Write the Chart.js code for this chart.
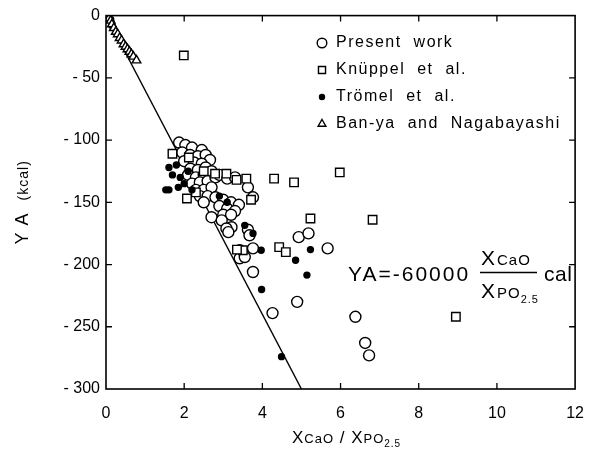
<!DOCTYPE html>
<html><head><meta charset="utf-8">
<script src="https://cdn.jsdelivr.net/npm/chart.js@4/dist/chart.umd.min.js"></script>
<style>html,body{margin:0;padding:0;background:#fff;}</style>
</head><body>
<canvas id="c" width="599" height="452" style="width:599px;height:452px;display:block"></canvas>
<script>
// ---- data ----
const seriesNames = ['Present work', 'Knüppel et al.', 'Trömel et al.', 'Ban-ya and Nagabayashi'];
const xTicks = [0, 2, 4, 6, 8, 10, 12];
const yTicks = [0, -50, -100, -150, -200, -250, -300];

const presentWork = [
  [1.87,-102],[2.03,-104],[2.2,-106],[2.45,-108],[1.95,-110],[2.15,-112],[2.35,-113],[2.55,-112],
  [2.66,-116],[2.0,-117],[2.25,-118],[2.45,-119],[2.16,-123],[2.35,-124],[2.55,-122],[2.1,-128],
  [2.3,-130],[2.5,-128],[2.7,-125],[2.2,-135],[2.4,-134],[2.6,-133],[2.8,-130],[2.3,-140],
  [2.5,-140],[2.7,-138],[2.4,-145],[2.6,-145],[2.5,-150],[2.9,-128],[3.1,-131],[3.3,-130],
  [3.63,-138],[3.76,-146],[2.8,-146],[3.0,-148],[3.2,-150],[3.4,-152],[2.9,-153],[3.1,-155],
  [3.3,-157],[3.0,-160],[3.2,-160],[2.7,-162],[2.96,-164.5],[3.21,-170],[3.08,-171],[3.13,-174],
  [3.63,-172],[3.67,-176.5],[3.42,-188.5],[3.42,-195],[3.55,-194],[3.76,-187],[3.76,-206],
  [4.93,-178],[5.18,-175],[5.67,-187],[4.26,-239],[4.89,-230],[6.38,-242],[6.63,-263],[6.73,-273]
];
const knuppel = [
  [1.99,-32],[1.70,-111],[2.12,-114],[2.07,-147],[2.5,-125],[2.79,-127],[3.08,-127],[3.34,-132],
  [3.59,-131],[3.71,-148],[4.30,-131],[4.81,-134],[5.98,-126],[5.23,-163],[6.82,-164],[4.43,-186],
  [4.60,-190],[3.50,-188.5],[8.95,-242],[2.3,-142],[3.35,-188]
];
const tromel = [
  [0.12,-3],[0.15,-8],[1.61,-122],[1.53,-140],[1.61,-140],[1.7,-128],[1.8,-120],[1.9,-130],
  [2.0,-135],[2.1,-125],[1.85,-138],[2.2,-140],[2.9,-145],[3.1,-150],[3.55,-168.5],[3.76,-175],
  [3.97,-188.5],[5.23,-188],[4.85,-196.5],[5.14,-208.5],[3.98,-220],[4.49,-274]
];
const banya = [
  [0.03,-1],[0.08,-2],[0.12,-4],[0.15,-7],[0.2,-10],[0.25,-13],[0.3,-15],[0.35,-18],[0.4,-20],
  [0.45,-23],[0.5,-25],[0.55,-27],[0.6,-29],[0.65,-31],[0.7,-33],[0.78,-36]
];
const fitLine = [[0,0],[5,-300]];

const toXY = a => a.map(p => ({x:p[0], y:p[1]}));
const FONT = "'Liberation Sans', Arial, sans-serif";

const ptBase = {showLine:false, borderColor:'#000', borderWidth:1.4};
const datasets = [
  {label:'fit', type:'line', data:toXY(fitLine), borderColor:'#000', borderWidth:1.4, pointRadius:0, order:10},
  Object.assign({label:seriesNames[1], data:toXY(knuppel), pointStyle:'rect', pointRadius:6, backgroundColor:'#fff', order:4}, ptBase),
  Object.assign({label:seriesNames[0], data:toXY(presentWork), pointStyle:'circle', pointRadius:5.5, backgroundColor:'#fff', order:5}, ptBase),
  Object.assign({label:seriesNames[2], data:toXY(tromel), pointStyle:'circle', pointRadius:3, backgroundColor:'#000', order:3}, ptBase),
  Object.assign({label:seriesNames[3], data:toXY(banya), pointStyle:'triangle', pointRadius:5, backgroundColor:'#fff', order:2}, ptBase)
];

const decor = {
  id:'decor',
  afterDraw(chart){
    const ctx = chart.ctx, a = chart.chartArea, xs = chart.scales.x, ys = chart.scales.y;
    ctx.save();
    ctx.strokeStyle = '#000'; ctx.lineWidth = 1.6;
    ctx.strokeRect(a.left, a.top, a.right - a.left, a.bottom - a.top);
    ctx.lineWidth = 1.3;
    ctx.beginPath();
    xTicks.slice(1, -1).forEach(v => {
      const px = xs.getPixelForValue(v);
      ctx.moveTo(px, a.bottom); ctx.lineTo(px, a.bottom - 6);
      ctx.moveTo(px, a.top); ctx.lineTo(px, a.top + 6);
    });
    yTicks.slice(1, -1).forEach(v => {
      const py = ys.getPixelForValue(v);
      ctx.moveTo(a.left, py); ctx.lineTo(a.left + 6, py);
      ctx.moveTo(a.right, py); ctx.lineTo(a.right - 6, py);
    });
    ctx.stroke();

    // legend
    ctx.fillStyle = '#000';
    ctx.font = '16px ' + FONT; ctx.textBaseline = 'middle'; ctx.textAlign = 'left';
    ctx.letterSpacing = '1.5px';
    ctx.wordSpacing = '6px';
    const legY = [43, 70, 97, 124];
    const order = [2, 1, 3, 4];
    const legR = {1:5, 2:4.8, 3:2.5, 4:4.5};
    order.forEach((di, i) => {
      const ds = chart.data.datasets[di];
      ctx.fillStyle = ds.backgroundColor; ctx.lineWidth = 1.4;
      Chart.helpers.drawPoint(ctx, {pointStyle: ds.pointStyle, radius: legR[di], borderWidth: 1.4}, 322, legY[i]);
      ctx.fillStyle = '#000';
      ctx.fillText(ds.label, 336, legY[i]);
    });
    ctx.wordSpacing = '0px';

    // formula
    ctx.textBaseline = 'alphabetic';
    ctx.letterSpacing = '2px';
    ctx.font = '21px ' + FONT;
    ctx.fillText('YA=-60000', 348, 281);
    ctx.letterSpacing = '1px';
    let x = 481;
    ctx.font = '21px ' + FONT; ctx.fillText('X', x, 265);
    let w = ctx.measureText('X').width;
    ctx.font = '15px ' + FONT; ctx.fillText('CaO', x + w + 1, 265);
    ctx.font = '21px ' + FONT; ctx.fillText('X', x, 298);
    ctx.font = '15px ' + FONT; ctx.fillText('PO', x + w + 1, 298);
    let w2 = ctx.measureText('PO').width;
    ctx.font = '11px ' + FONT; ctx.fillText('2.5', x + w + 1 + w2, 303);
    ctx.lineWidth = 1.3;
    ctx.beginPath(); ctx.moveTo(480, 272.5); ctx.lineTo(537, 272.5); ctx.stroke();
    ctx.letterSpacing = '0.5px';
    ctx.font = '21px ' + FONT; ctx.fillText('cal', 544, 281);

    // x title
    ctx.letterSpacing = '1px';
    const parts = [['X',17,0],['CaO',13,0],[' / ',17,0],['X',17,0],['PO',13,0],['2.5',10,4]];
    let tot = 0;
    parts.forEach(p => { ctx.font = p[1] + 'px ' + FONT; tot += ctx.measureText(p[0]).width; });
    let tx = (a.left + a.right) / 2 - tot / 2 + 6;
    parts.forEach(p => { ctx.font = p[1] + 'px ' + FONT; ctx.fillText(p[0], tx, 443 + p[2]); tx += ctx.measureText(p[0]).width; });

    // y title
    ctx.translate(28, (a.top + a.bottom) / 2);
    ctx.rotate(-Math.PI / 2);
    const yp = [['Y A  ',18],['(kcal)',14]];
    let yt = 0;
    yp.forEach(p => { ctx.font = p[1] + 'px ' + FONT; yt += ctx.measureText(p[0]).width; });
    let yx = -yt / 2;
    yp.forEach(p => { ctx.font = p[1] + 'px ' + FONT; ctx.fillText(p[0], yx, 0); yx += ctx.measureText(p[0]).width; });
    ctx.restore();
  }
};

new Chart(document.getElementById('c'), {
  type: 'scatter',
  data: {datasets},
  options: {
    responsive:false, animation:false,
    layout:{padding:{top:15, right:17, left:0, bottom:0}},
    plugins:{legend:{display:false}, tooltip:{enabled:false}},
    scales:{
      x:{type:'linear', min:0, max:12, afterBuildTicks: s => { s.ticks = xTicks.map(v => ({value:v})); },
         grid:{display:false, drawTicks:false}, border:{display:false},
         ticks:{color:'#000', font:{size:16, family:FONT}, padding:15, maxRotation:0},
         afterFit: s => { s.height = 63; }},
      y:{type:'linear', min:-300, max:0, afterBuildTicks: s => { s.ticks = yTicks.map(v => ({value:v})); },
         grid:{display:false, drawTicks:false}, border:{display:false},
         ticks:{color:'#000', font:{size:16, family:FONT}, padding:6,
                callback: v => v === 0 ? '0' : '- ' + Math.abs(v)},
         afterFit: s => { s.width = 106; }}
    }
  },
  plugins:[decor]
});
</script>
</body></html>
